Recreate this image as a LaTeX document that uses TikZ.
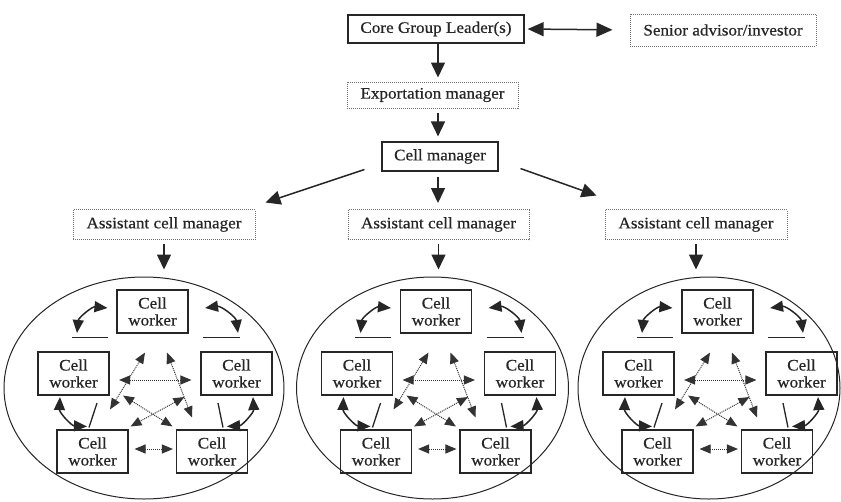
\documentclass[tikz,border=0pt]{standalone}
\usepackage{fontspec}
\setmainfont{Liberation Serif}[FakeStretch=1.07,FakeBold=0.5]
\usetikzlibrary{arrows.meta,shapes.geometric,calc}
\tikzset{
  txt/.style={font=\fontsize{16}{17}\selectfont, text=black!85, inner sep=0pt, align=center},
  solidbox/.style={txt, draw=black!85, line width=1.3pt},
  dotbox/.style={txt, draw=black!55, densely dotted, line width=1pt},
  cellbox/.style={txt, draw=black!85, line width=1.1pt, minimum width=71pt, minimum height=43pt},
  bigarrow/.style={draw=black!85, line width=1.5pt, -{Triangle[length=15pt,width=14pt]}},
  dblarrow/.style={draw=black!85, line width=1.5pt, {Triangle[length=16pt,width=14pt]}-{Triangle[length=16pt,width=14pt]}},
  curvarrow/.style={draw=black!85, line width=1.5pt, {Triangle[length=13pt,width=11pt]}-{Triangle[length=13pt,width=11pt]}},
  dotarrow/.style={draw=black!80, densely dotted, line width=1pt, {Triangle[length=11pt,width=9pt]}-{Triangle[length=11pt,width=9pt]}},
  plainline/.style={draw=black!85, line width=1.3pt},
  ell/.style={ellipse, draw=black!85, line width=1pt, inner sep=0pt}
}
\newcommand\cellgroup[5]{%
  \node[ell, minimum width=2*#4, minimum height=222] (#1e) at (#3,388) {};
  \node[cellbox] (#1t) at (#2,311.5) {Cell\\worker};
  \node[cellbox] (#1l) at (#2-79,373.5) {Cell\\worker};
  \node[cellbox] (#1r) at (#2+84,373.5) {Cell\\worker};
  \node[cellbox] (#1bl) at (#2-60,451.5) {Cell\\worker};
  \node[cellbox] (#1br) at (#2+59.5,451.5) {Cell\\worker};
  \draw[bigarrow] ([yshift=-4pt]#5.south) -- ($(#5.south |- #1e.north)+(0,-7)$);
  % solid curved arrows and guide lines
  \draw[curvarrow] ($(#1l.north)+(3.5,-18.5)$) to[bend left=45] ($(#1t.west)+(-9,-3.5)$);
  \draw[plainline] ($(#1t.south west)+(-44.5,4)$) -- ($(#1t.south west)+(-8.5,4)$);
  \draw[curvarrow] ($(#1t.east)+(16.5,-3.5)$) to[bend left=45] ($(#1r.north)+(1.5,-18.5)$);
  \draw[plainline] ($(#1t.south east)+(14.5,4)$) -- ($(#1t.south east)+(51.5,4)$);
  \draw[curvarrow] ($(#1l.south)+(-13.5,1.5)$) to[bend right=45] ($(#1bl.north)+(-5.5,-3)$);
  \draw[plainline] ($(#1l.south)+(23.5,7.5)$) -- ($(#1bl.north)+(-3.5,-2)$);
  \draw[curvarrow] ($(#1r.south)+(16.5,1.5)$) to[bend left=45] ($(#1br.north)+(15,-3)$);
  \draw[plainline] ($(#1r.south)+(-18.5,7.5)$) -- ($(#1br.north)+(11,-2)$);
  % dotted arrows
  \draw[dotarrow] ($(#1l.east)+(9.5,6.5)$) -- ($(#1r.west)+(-9,6.5)$);
  \draw[dotarrow] ($(#1t.south)+(-7.5,19)$) -- ($(#1bl.north)+(17.5,-20)$);
  \draw[dotarrow] ($(#1t.south)+(14.5,19)$) -- ($(#1br.north)+(-20,-12)$);
  \draw[dotarrow] ($(#1l.south east)+(13.5,0)$) -- ($(#1br.north west)+(-3.5,-3)$);
  \draw[dotarrow] ($(#1r.south west)+(-16,1.5)$) -- ($(#1bl.north east)+(2,-3)$);
  \draw[dotarrow] ($(#1bl.east)+(6,-2.5)$) -- ($(#1br.west)+(-3,-2.5)$);
}
\begin{document}
\begin{tikzpicture}[x=1pt,y=-1pt]
\fill[white] (0,0) rectangle (841,501);
\useasboundingbox (0,0) rectangle (841,501);
% top chain
\node[solidbox, minimum width=176pt, minimum height=28pt] (core) at (436,29) {Core Group Leader(s)};
\node[dotbox, minimum width=186pt, minimum height=32pt] (senior) at (723,30) {Senior advisor/investor};
\node[dotbox, minimum width=171pt, minimum height=26pt] (export) at (432.5,95) {Exportation manager};
\node[solidbox, line width=1.1pt, minimum width=116pt, minimum height=29pt] (cm) at (440,156.5) {Cell manager};
\node[dotbox, minimum width=182pt, minimum height=30pt] (aL) at (164,224.5) {Assistant cell manager};
\node[dotbox, minimum width=181pt, minimum height=30pt] (aM) at (438.5,224.5) {Assistant cell manager};
\node[dotbox, minimum width=182pt, minimum height=30pt] (aR) at (696,224.5) {Assistant cell manager};
\draw[dblarrow, shorten <=3pt, shorten >=17pt] (core.east) -- (senior.west);
\draw[bigarrow, shorten <=0pt, shorten >=4pt] ([xshift=2pt]core.south) -- ([xshift=2pt]core.south |- export.north);
\draw[bigarrow, shorten <=4pt, shorten >=5pt] ([xshift=-2pt]cm.north |- export.south) -- ([xshift=-2pt]cm.north);
\draw[bigarrow, shorten <=5pt, shorten >=6pt] ([xshift=-2pt]cm.south) -- ([xshift=-2pt]cm.south |- aM.north);
\draw[bigarrow] ($(cm.south west)+(-17,-2)$) -- ($(aL.north east)+(10,-6.5)$);
\draw[bigarrow] ($(cm.south east)+(22,-3)$) -- ($(aR.north west)+(-8,-13.5)$);
% cell groups
\cellgroup{L}{152.5}{144}{140}{aL}
\cellgroup{M}{436}{432.5}{136}{aM}
\cellgroup{R}{717.5}{709}{131}{aR}
\end{tikzpicture}
\end{document}
